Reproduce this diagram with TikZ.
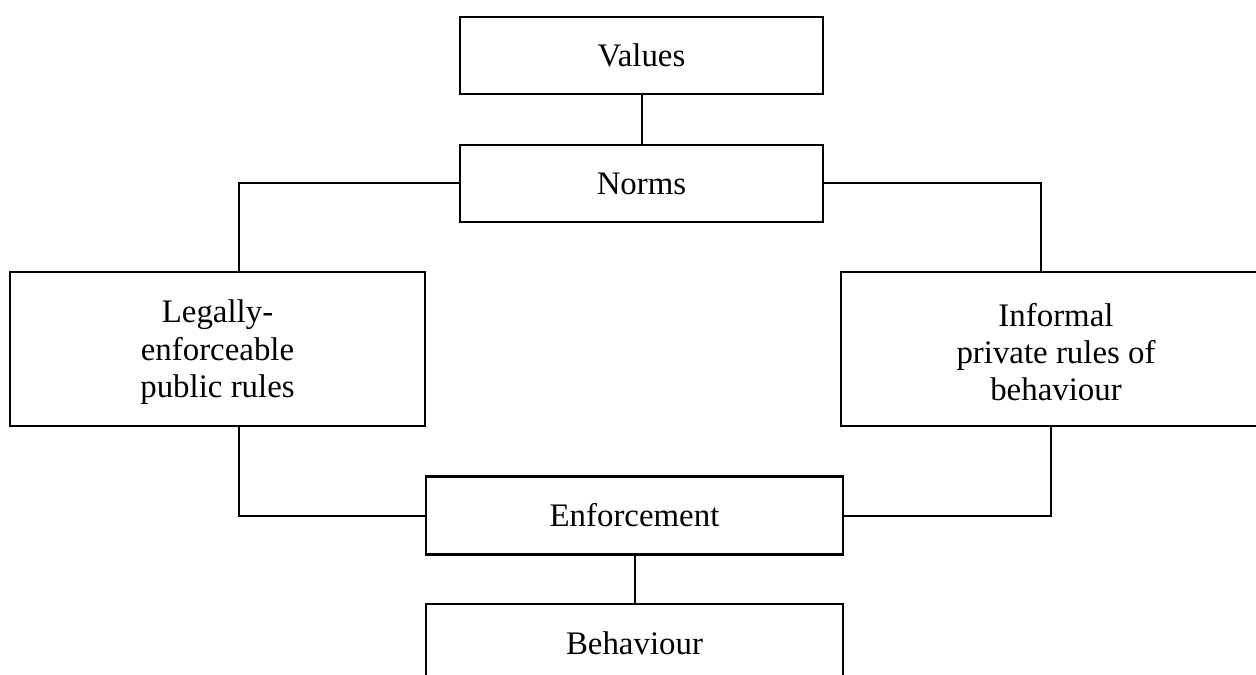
\documentclass[tikz,border=0pt]{standalone}
\usepackage{fontspec}
\setmainfont{Liberation Serif}
\begin{document}
\begin{tikzpicture}[x=1bp,y=-1bp,
  box/.style={draw=black,line width=2.5bp,rectangle,align=center,inner sep=0pt,
    font=\fontsize{33}{37.5}\selectfont},
  link/.style={draw=black,line width=2bp}]
\useasboundingbox (0,0) rectangle (1256,675);
\fill[white] (0,0) rectangle (1256,675);
\clip (0,0) rectangle (1256,675);
\node[box,minimum width=363bp,minimum height=77bp] (values) at (641.5,55.5) {Values};
\node[box,minimum width=363bp,minimum height=77bp] (norms) at (641.5,183.5) {Norms};
\node[box,minimum width=415bp,minimum height=154bp] (legal) at (217.5,349) {\rule{0pt}{10bp}\\[-18bp]Legally-\\enforceable\\public rules};
\node[box,minimum width=430bp,minimum height=154bp] (informal) at (1056,349) {\rule{0pt}{10bp}\\[-18bp]Informal\\private rules of\\behaviour};
\node[box,minimum width=417bp,minimum height=78bp] (enforce) at (634.5,515.5) {Enforcement};
\node[box,minimum width=417bp,minimum height=78bp] (behav) at (634.5,643) {Behaviour};
\coordinate (nl) at (239,183.5);
\coordinate (nr) at (1041,183.5);
\coordinate (el) at (239,515.5);
\coordinate (er) at (1051,515.5);
\draw[link] (values.south) -- (norms.north);
\draw[link] (norms.west) -- (nl) -- (nl |- legal.north);
\draw[link] (norms.east) -- (nr) -- (nr |- informal.north);
\draw[link] (el |- legal.south) -- (el) -- (enforce.west);
\draw[link] (er |- informal.south) -- (er) -- (enforce.east);
\draw[link] (enforce.south) -- (behav.north);
\end{tikzpicture}
\end{document}
